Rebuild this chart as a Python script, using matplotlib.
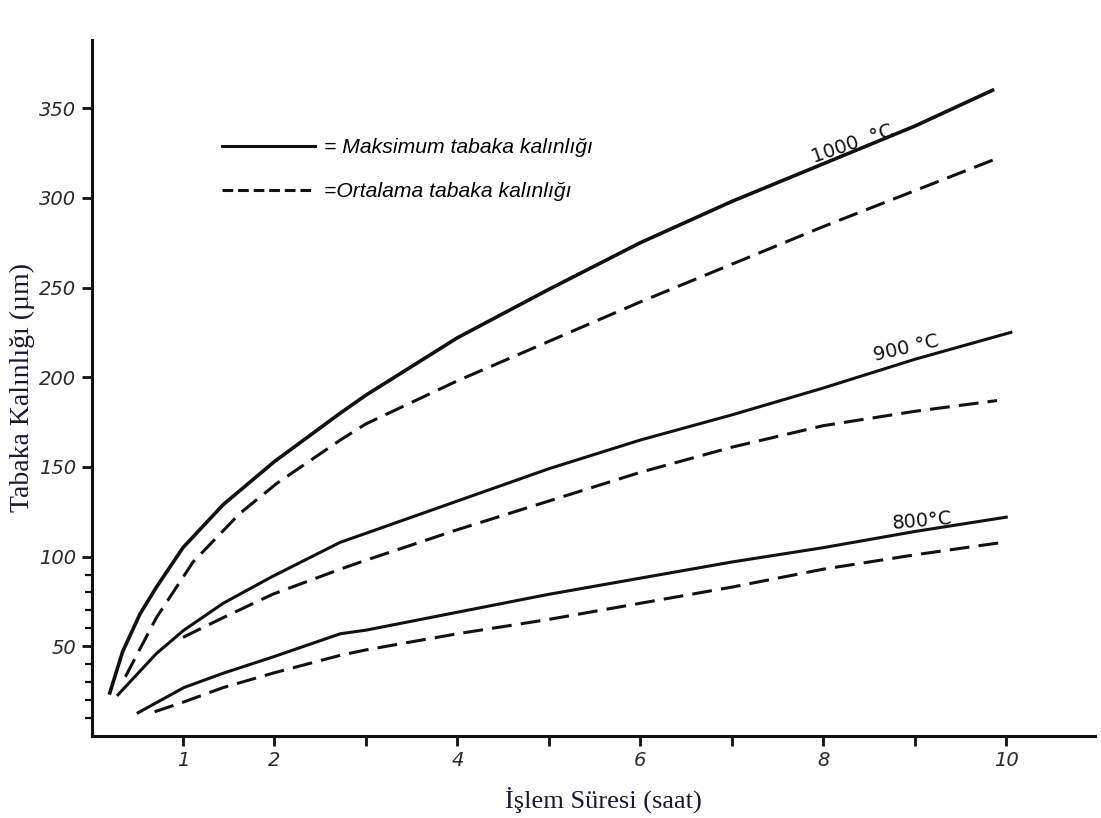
import matplotlib
matplotlib.use("Agg")
import matplotlib.pyplot as plt
from matplotlib.lines import Line2D

# readings: time (h) vs layer thickness (um)
t_1000_max = [0.2, 0.34, 0.53, 0.71, 1.0, 1.44, 2.0, 2.72, 3.0, 4.0, 5.0, 6.0, 7.0, 8.0, 9.0, 9.85]
y_1000_max = [24, 47, 68, 83, 105, 129, 153, 180, 190, 222, 249, 275, 298, 319, 340, 360]

t_1000_avg = [0.37, 0.71, 1.11, 1.62, 2.03, 2.72, 3.0, 4.0, 5.0, 6.0, 7.0, 8.0, 9.0, 9.9]
y_1000_avg = [33, 66, 97, 124, 141, 165, 174, 198, 220, 242, 263, 284, 304, 322]

t_900_max = [0.29, 0.71, 1.01, 1.44, 1.98, 2.72, 3.0, 4.0, 5.0, 6.0, 7.0, 8.0, 9.0, 10.05]
y_900_max = [23, 46, 59, 74, 89, 108, 113, 131, 149, 165, 179, 194, 210, 225]

t_900_avg = [1.0, 1.44, 1.98, 2.72, 3.0, 4.0, 5.0, 6.0, 7.0, 8.0, 9.0, 9.9]
y_900_avg = [55, 66, 79, 93, 98, 115, 131, 147, 161, 173, 181, 187]

t_800_max = [0.51, 1.01, 1.44, 1.98, 2.72, 3.0, 4.0, 5.0, 6.0, 7.0, 8.0, 9.0, 10.0]
y_800_max = [13, 27, 35, 44, 57, 59, 69, 79, 88, 97, 105, 114, 122]

t_800_avg = [0.69, 1.01, 1.44, 1.98, 2.72, 3.0, 4.0, 5.0, 6.0, 7.0, 8.0, 9.0, 9.97]
y_800_avg = [13.5, 19, 27, 35, 45, 48, 57, 65, 74, 83, 93, 101, 108]

x_ticks = [1, 2, 3, 4, 5, 6, 7, 8, 9, 10]
x_tick_labels = ['1', '2', '', '4', '', '6', '', '8', '', '10']
y_ticks = [50, 100, 150, 200, 250, 300, 350]
y_minor = [10, 20, 30, 40, 60, 70, 80, 90]

fig = plt.figure(figsize=(11.01, 8.18), dpi=100)
ax = fig.add_axes([91.5 / 1101, 82 / 818, 1003.5 / 1101, 696 / 818])

ink = '#111111'
lw = 2.2
dash = (6.5, 3)

ax.plot(t_1000_max, y_1000_max, color=ink, lw=lw + 0.4)
ax.plot(t_1000_avg, y_1000_avg, color=ink, lw=lw, dashes=dash)
ax.plot(t_900_max, y_900_max, color=ink, lw=lw)
ax.plot(t_900_avg, y_900_avg, color=ink, lw=lw, dashes=dash)
ax.plot(t_800_max, y_800_max, color=ink, lw=lw)
ax.plot(t_800_avg, y_800_avg, color=ink, lw=lw, dashes=dash)

ax.set_xlim(0, 10.97)
ax.set_ylim(0, 388)

for s in ['top', 'right']:
    ax.spines[s].set_visible(False)
for s in ['left', 'bottom']:
    ax.spines[s].set_linewidth(2.2)
    ax.spines[s].set_color(ink)

tick_font = dict(family='DejaVu Sans', style='italic', size=14, color='#2a2a2a')
ax.set_xticks(x_ticks)
ax.set_xticklabels(x_tick_labels, fontdict=tick_font)
ax.set_yticks(y_ticks)
ax.set_yticklabels([str(v) for v in y_ticks], fontdict=tick_font)
ax.set_yticks(y_minor, minor=True)
ax.tick_params(axis='both', which='major', direction='out', length=7, width=2, color=ink, pad=4)
ax.tick_params(axis='y', which='minor', direction='out', length=5, width=1.6, color=ink)

# curve labels
lab_font = dict(family='DejaVu Sans', size=14, color=ink, ha='center', va='center')
ax.text(8.32, 330, '1000  °C', rotation=19, **lab_font)
ax.text(8.91, 216, '900 °C', rotation=13, **lab_font)
ax.text(9.08, 120, '800°C', rotation=5, **lab_font)

# legend
h_max = Line2D([], [], color=ink, lw=lw)
h_avg = Line2D([], [], color=ink, lw=lw, dashes=(3.5, 1.6))
ax.legend([h_max, h_avg], ['= Maksimum tabaka kalınlığı', '=Ortalama tabaka kalınlığı'],
          loc='upper left', bbox_to_anchor=(222 / 1101, 1 - 138 / 818),
          bbox_transform=fig.transFigure, frameon=False, borderpad=0, borderaxespad=0,
          handlelength=4.4, handletextpad=0.45, labelspacing=1.2,
          prop=dict(family='Liberation Sans', style='italic', size=15.2))

axis_font = dict(family='Liberation Serif', color='#17173a')
fig.text(22 / 1101, 1 - 388 / 818, 'Tabaka Kalınlığı (µm)', rotation=90,
         ha='center', va='center', size=20, **axis_font)
fig.text(603 / 1101, 1 - 800 / 818, 'İşlem Süresi (saat)', ha='center', va='center',
         size=19, **axis_font)

fig.savefig('out.png', dpi=100)
